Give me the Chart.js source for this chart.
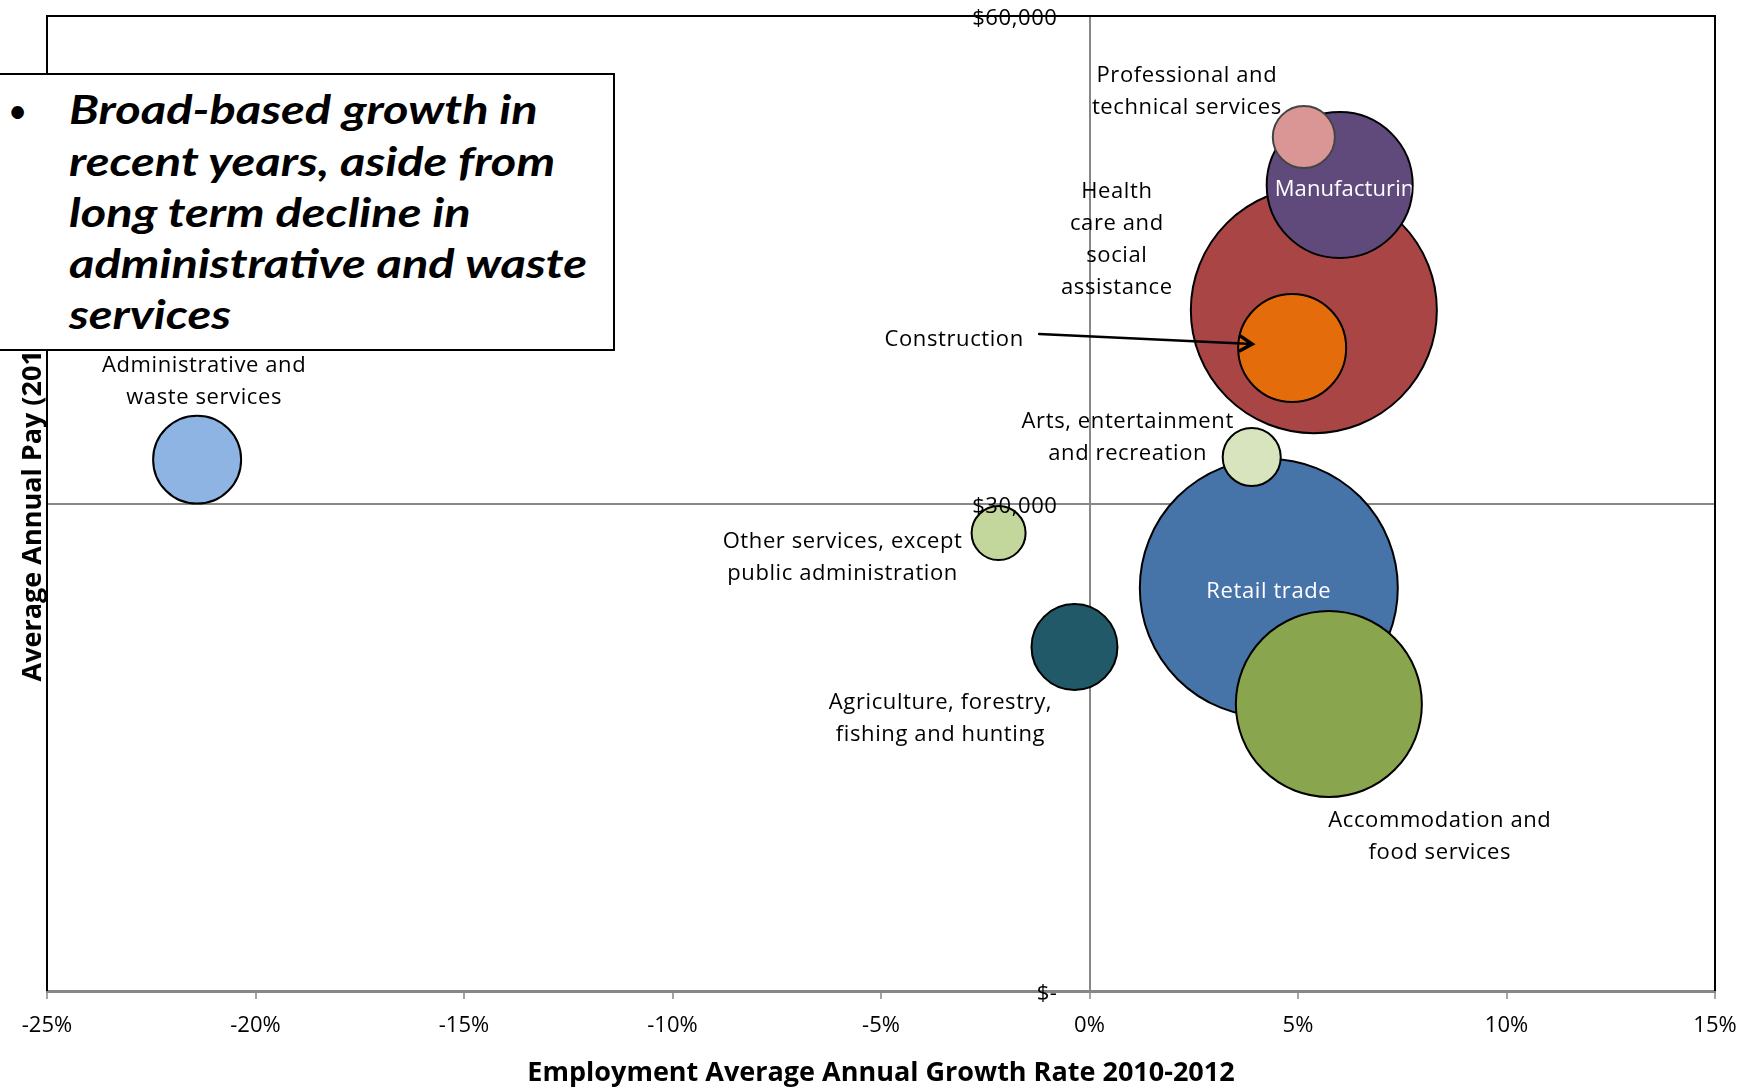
<!DOCTYPE html>
<html><head><meta charset="utf-8">
<script src="https://cdn.jsdelivr.net/npm/chart.js@4.4.1/dist/chart.umd.min.js"></script>
<style>
html,body{margin:0;padding:0;background:#fff;overflow:hidden}
#wrap{position:relative;width:1756px;height:1087px;overflow:hidden}
#c{position:absolute;left:0;top:0}
#note{position:absolute;left:-10px;top:73px;width:621px;height:274px;border:2px solid #000;background:#fff;
 font-family:Lato, sans-serif;font-weight:bold;font-style:italic;font-size:40px;line-height:51.2px;color:#000}
#note .bullet{position:absolute;left:5.5px;width:40px;text-align:center;top:9.4px;font-style:normal;font-weight:normal;font-size:34px}
#note .txt{position:absolute;left:77px;top:9.4px;white-space:nowrap;transform-origin:0 0}
#note .txt span{display:inline-block}
</style></head>
<body><div id="wrap"><canvas id="c" width="1756" height="1087"></canvas>
<div id="note"><span class="bullet">•</span><div class="txt"><span>Broad-based growth in</span><br><span>recent years, aside from</span><br><span>long term decline in</span><br><span>administrative and waste</span><br><span>services</span></div></div></div>
<script>
// ---- data ----
const industries = ["Administrative and waste services","Professional and technical services","Manufacturing",
  "Health care and social assistance","Construction","Arts, entertainment and recreation","Retail trade",
  "Accommodation and food services","Other services, except public administration","Agriculture, forestry, fishing and hunting"];
const growthPct = [-21.4, 5.14, 6.0, 5.38, 4.86, 3.89, 4.3, 5.74, -2.18, -0.36];
const avgPay = [32700, 52550, 49600, 41900, 39570, 32860, 24800, 17660, 28180, 21170];
const employment = [2390, 1190, 6580, 18680, 3600, 1040, 20540, 10680, 900, 2280];
const labelLines = [["Administrative and","waste services"],["Professional and","technical services"],["Manufacturing"],
  ["Health","care and","social","assistance"],["Construction"],["Arts, entertainment","and recreation"],["Retail trade"],
  ["Accommodation and","food services"],["Other services, except","public administration"],["Agriculture, forestry,","fishing and hunting"]];
const xTickMin = -25, xTickMax = 15, xTickStep = 5;
const yTickMin = 0, yTickMax = 60000, yTickStep = 30000;
const xTitle = "Employment Average Annual Growth Rate 2010-2012";
const yTitle = "Average Annual Pay (2012)";

// ---- styles ----
const colors = ['#8EB4E3','#D99694','#604A7B','#A94645','#E46C0A','#D7E4BD','#4673A8','#89A54E','#C3D69B','#215968'];
const labelStyle = [ // offsets from bubble centre, px
  {dx:7,dy:-94},{dx:-117,dy:-61},{dx:-65,dy:5,align:'left',color:'#fff',clip:true,spacing:'0.1px'},{dx:-197,dy:-118},
  {dx:-338,dy:-8,arrow:{x1:-253,y1:-14,x2:-40,y2:-4}},{dx:-124,dy:-35},{dx:0,dy:4,color:'#fff'},
  {dx:111,dy:117},{dx:-156,dy:9},{dx:-134,dy:56}];
const bubbleScale = 0.9;
const FONT = '"Open Sans", Lato, sans-serif';
const LABEL_FONT = '22px ' + FONT;

// fit note text to the reference line width
(function(){
  const t = document.querySelector('#note .txt');
  let w = 0; t.querySelectorAll('span').forEach(s => { w = Math.max(w, s.getBoundingClientRect().width); });
  if (w > 0) t.style.transform = 'scaleX(' + (518 / w) + ')';
})();

// bubbles must not shrink the plot area
Chart.BubbleController.prototype.getMaxOverflow = function(){ return 0; };

const order = industries.map((_, i) => i).sort((a, b) => employment[b] - employment[a]);
const points = order.map(i => ({x: growthPct[i], y: avgPay[i], r: Math.sqrt(employment[i]) * bubbleScale}));

function fmtPay(v){ return v === 0 ? '$-' : '$' + String(v).replace(/\B(?=(\d{3})+(?!\d))/g, ','); }

const annotate = {
  id: 'annotate',
  afterDatasetsDraw(chart){
    const ctx = chart.ctx, xs = chart.scales.x, ys = chart.scales.y, meta = chart.getDatasetMeta(0);
    ctx.save();
    ctx.font = LABEL_FONT; ctx.fillStyle = '#000'; ctx.textAlign = 'right'; ctx.textBaseline = 'middle';
    ctx.letterSpacing = '0.6px';
    const x0 = xs.getPixelForValue(0);
    ys.ticks.forEach(t => ctx.fillText(fmtPay(t.value), x0 - 32, ys.getPixelForValue(t.value) + 3));
    industries.forEach((name, i) => {
      const el = meta.data[order.indexOf(i)];
      const st = labelStyle[i];
      const lines = labelLines[i];
      ctx.save();
      if (st.clip) { ctx.beginPath(); ctx.arc(el.x, el.y, el.options.radius - 1, 0, Math.PI*2); ctx.clip(); }
      ctx.fillStyle = st.color || '#000';
      ctx.textAlign = st.align || 'center';
      ctx.textBaseline = 'middle';
      ctx.font = LABEL_FONT;
      ctx.letterSpacing = st.spacing || '0.6px';
      lines.forEach((ln, k) => ctx.fillText(ln, el.x + st.dx, el.y + st.dy + k * 32));
      ctx.restore();
      if (st.arrow) {
        const a = st.arrow;
        const sx = el.x + a.x1, sy = el.y + a.y1, ex = el.x + a.x2, ey = el.y + a.y2;
        ctx.save(); ctx.strokeStyle = '#000'; ctx.lineWidth = 2.5; ctx.lineCap = 'round';
        ctx.beginPath(); ctx.moveTo(sx, sy); ctx.lineTo(ex, ey); ctx.stroke();
        const ang = Math.atan2(ey - sy, ex - sx), L = 14;
        ctx.lineWidth = 3.5;
        ctx.beginPath();
        ctx.moveTo(ex - L*Math.cos(ang - 0.55), ey - L*Math.sin(ang - 0.55));
        ctx.lineTo(ex, ey);
        ctx.lineTo(ex - L*Math.cos(ang + 0.55), ey - L*Math.sin(ang + 0.55));
        ctx.stroke(); ctx.restore();
      }
    });
    ctx.restore();
  },
  afterDraw(chart){
    const {ctx, chartArea:a} = chart;
    ctx.save(); ctx.strokeStyle = '#000'; ctx.lineWidth = 2;
    ctx.beginPath(); ctx.moveTo(a.left, a.bottom); ctx.lineTo(a.left, a.top); ctx.lineTo(a.right, a.top); ctx.lineTo(a.right, a.bottom);
    ctx.stroke(); ctx.restore();
  }
};

Chart.defaults.font.family = FONT;
Chart.defaults.color = '#000';
new Chart(document.getElementById('c'), {
  type: 'bubble',
  data: { datasets: [{
    data: points,
    backgroundColor: order.map(i => colors[i]),
    borderColor: order.map(i => i === 1 ? '#444' : '#000'),
    borderWidth: 2,
    hoverBorderWidth: 2
  }]},
  options: {
    responsive: false, animation: false,
    layout: { padding: { left: 0, right: 41, top: 16, bottom: 0 } },
    plugins: { legend: {display:false}, tooltip: {enabled:false} },
    events: [],
    scales: {
      x: {
        type: 'linear', min: xTickMin, max: xTickMax,
        ticks: { stepSize: xTickStep, autoSkip:false, maxRotation:0, padding: 14, font:{size:22}, color:'#000',
                 callback: v => v + '%' },
        grid: { color: c => c.tick && c.tick.value === 0 ? '#878787' : 'rgba(0,0,0,0)', lineWidth: 2,
                tickColor: '#878787', tickLength: 8, tickWidth: 1.5, drawTicks: true },
        border: { display: true, color: '#878787', width: 3 },
        title: { display: true, text: xTitle, font: {size: 27, weight: 'bold', lineHeight: 1.05}, color:'#000', padding: {top:0,bottom:0} },
        afterFit: s => { s.height = 96; }
      },
      y: {
        type: 'linear', min: yTickMin, max: yTickMax, position: 'left',
        ticks: { stepSize: yTickStep, display: false },
        grid: { color: c => c.tick && c.tick.value === 30000 ? '#878787' : 'rgba(0,0,0,0)', lineWidth: 2, drawTicks: false },
        border: { display: false },
        title: { display: true, text: yTitle, font: {size: 27, weight: 'bold', lineHeight: 1.2}, color:'#000', padding: {top:17,bottom:0} },
        afterFit: s => { s.width = 47; }
      }
    }
  },
  plugins: [annotate]
});
</script>
</body></html>
